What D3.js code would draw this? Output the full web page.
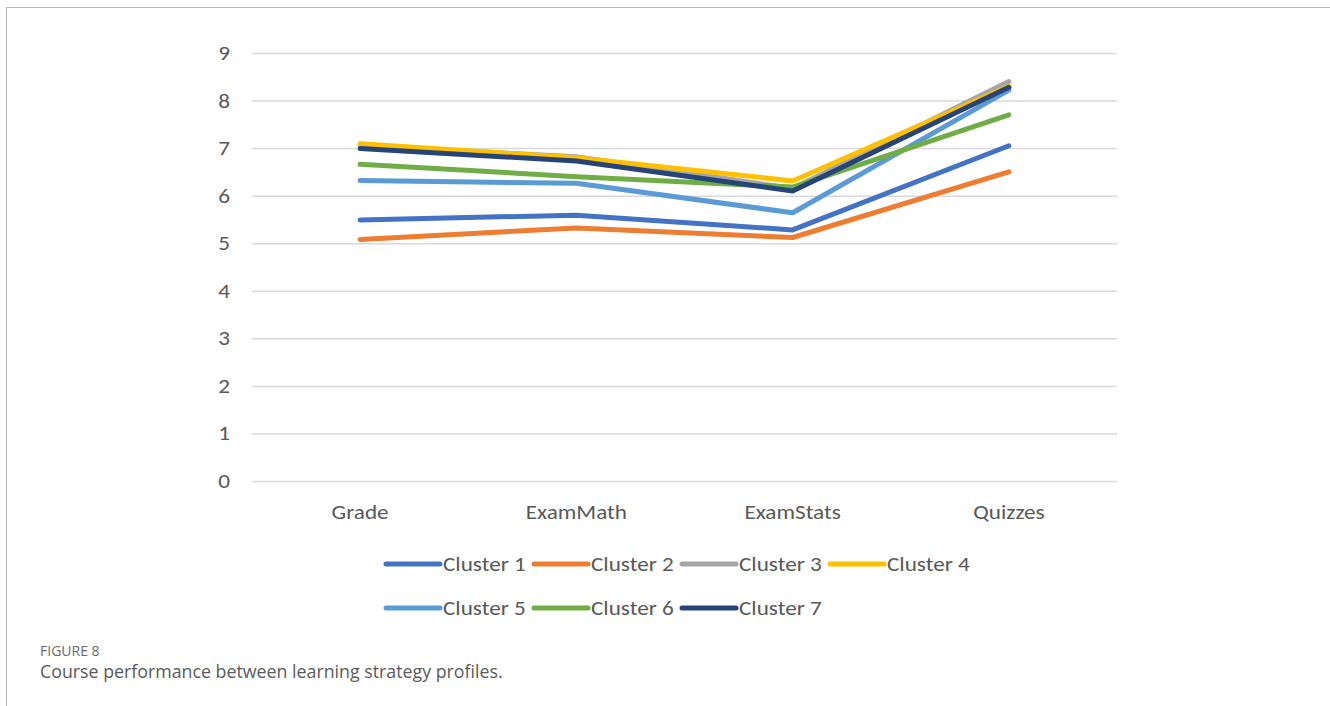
<!DOCTYPE html>
<html>
<head>
<meta charset="utf-8">
<script src="https://cdn.jsdelivr.net/npm/d3@7"></script>
<style>
  body { margin: 0; background: #fff; }
  svg { display: block; }
</style>
</head>
<body>
<div id="chart"></div>
<script>
const categories = ["Grade", "ExamMath", "ExamStats", "Quizzes"];
const seriesNames = ["Cluster 1", "Cluster 2", "Cluster 3", "Cluster 4", "Cluster 5", "Cluster 6", "Cluster 7"];
const cluster1 = [5.49, 5.59, 5.28, 7.05];
const cluster2 = [5.08, 5.32, 5.12, 6.50];
const cluster3 = [7.05, 6.82, 6.15, 8.40];
const cluster4 = [7.09, 6.80, 6.31, 8.30];
const cluster5 = [6.32, 6.26, 5.64, 8.22];
const cluster6 = [6.66, 6.40, 6.18, 7.70];
const cluster7 = [6.99, 6.73, 6.10, 8.28];
const yTicks = [0, 1, 2, 3, 4, 5, 6, 7, 8, 9];
const colors = ["#4472C4", "#ED7D31", "#A5A5A5", "#FFC000", "#5B9BD5", "#70AD47", "#264478"];

const allValues = [cluster1, cluster2, cluster3, cluster4, cluster5, cluster6, cluster7];
const series = seriesNames.map((name, i) => ({ name, color: colors[i], values: allValues[i] }));

const width = 1330, height = 706;
const svg = d3.select("#chart").append("svg")
  .attr("width", width)
  .attr("height", height);

// frame
svg.append("rect")
  .attr("x", 6.5).attr("y", 7.5)
  .attr("width", width + 10).attr("height", height + 10)
  .attr("fill", "none")
  .attr("stroke", "#b5b5b5")
  .attr("stroke-width", 1);

const plot = { left: 252, right: 1117, top: 53, bottom: 481 };

const x = d3.scaleBand().domain(categories).range([plot.left, plot.right]);
const y = d3.scaleLinear().domain([0, 9]).range([plot.bottom, plot.top]);

const font = "Carlito, 'Liberation Sans', Arial, sans-serif";
const stretch = 1.16; // the picture's text is a bit wider than plain Calibri

// gridlines
svg.append("g")
  .selectAll("line")
  .data(yTicks)
  .join("line")
  .attr("x1", plot.left).attr("x2", plot.right)
  .attr("y1", d => y(d) + 0.5).attr("y2", d => y(d) + 0.5)
  .attr("stroke", "#d9d9d9")
  .attr("stroke-width", 1.5);

// y tick labels
svg.append("g")
  .selectAll("text")
  .data(yTicks)
  .join("text")
  .attr("transform", d => `translate(230,${y(d)}) scale(${stretch},1)`)
  .attr("dy", "0.35em")
  .attr("text-anchor", "end")
  .attr("font-family", font)
  .attr("font-size", "20px")
  .attr("fill", "#595959")
  .text(d => d);

// x category labels
svg.append("g")
  .selectAll("text")
  .data(categories)
  .join("text")
  .attr("transform", d => `translate(${x(d) + x.bandwidth() / 2},512) scale(${stretch},1)`)
  .attr("dy", "0.35em")
  .attr("text-anchor", "middle")
  .attr("font-family", font)
  .attr("font-size", "20px")
  .attr("fill", "#595959")
  .text(d => d);

const line = d3.line()
  .x((d, i) => x(categories[i]) + x.bandwidth() / 2)
  .y(d => y(d));

svg.append("g")
  .selectAll("path")
  .data(series)
  .join("path")
  .attr("fill", "none")
  .attr("stroke", d => d.color)
  .attr("stroke-width", 5)
  .attr("stroke-linecap", "round")
  .attr("stroke-linejoin", "round")
  .attr("d", d => line(d.values));

// legend
const legend = svg.append("g");
const legendItems = legend.selectAll("g")
  .data(series)
  .join("g")
  .attr("transform", (d, i) => `translate(${386 + (i % 4) * 148},${564 + Math.floor(i / 4) * 44})`);

legendItems.append("line")
  .attr("x1", 0).attr("x2", 54)
  .attr("y1", 0).attr("y2", 0)
  .attr("stroke", d => d.color)
  .attr("stroke-width", 5)
  .attr("stroke-linecap", "round");

legendItems.append("text")
  .attr("transform", `translate(57,0) scale(${stretch},1)`)
  .attr("dy", "0.35em")
  .attr("font-family", font)
  .attr("font-size", "20px")
  .attr("fill", "#595959")
  .text(d => d.name);

// caption
svg.append("text")
  .attr("x", 40).attr("y", 656)
  .attr("font-family", "'Open Sans', sans-serif")
  .attr("font-size", "14px")
  .attr("fill", "#6b6b6b")
  .text("FIGURE 8");

svg.append("text")
  .attr("x", 40).attr("y", 678)
  .attr("font-family", "'Open Sans', sans-serif")
  .attr("font-size", "17.8px")
  .attr("fill", "#5a5a5a")
  .text("Course performance between learning strategy profiles.");
</script>
</body>
</html>
